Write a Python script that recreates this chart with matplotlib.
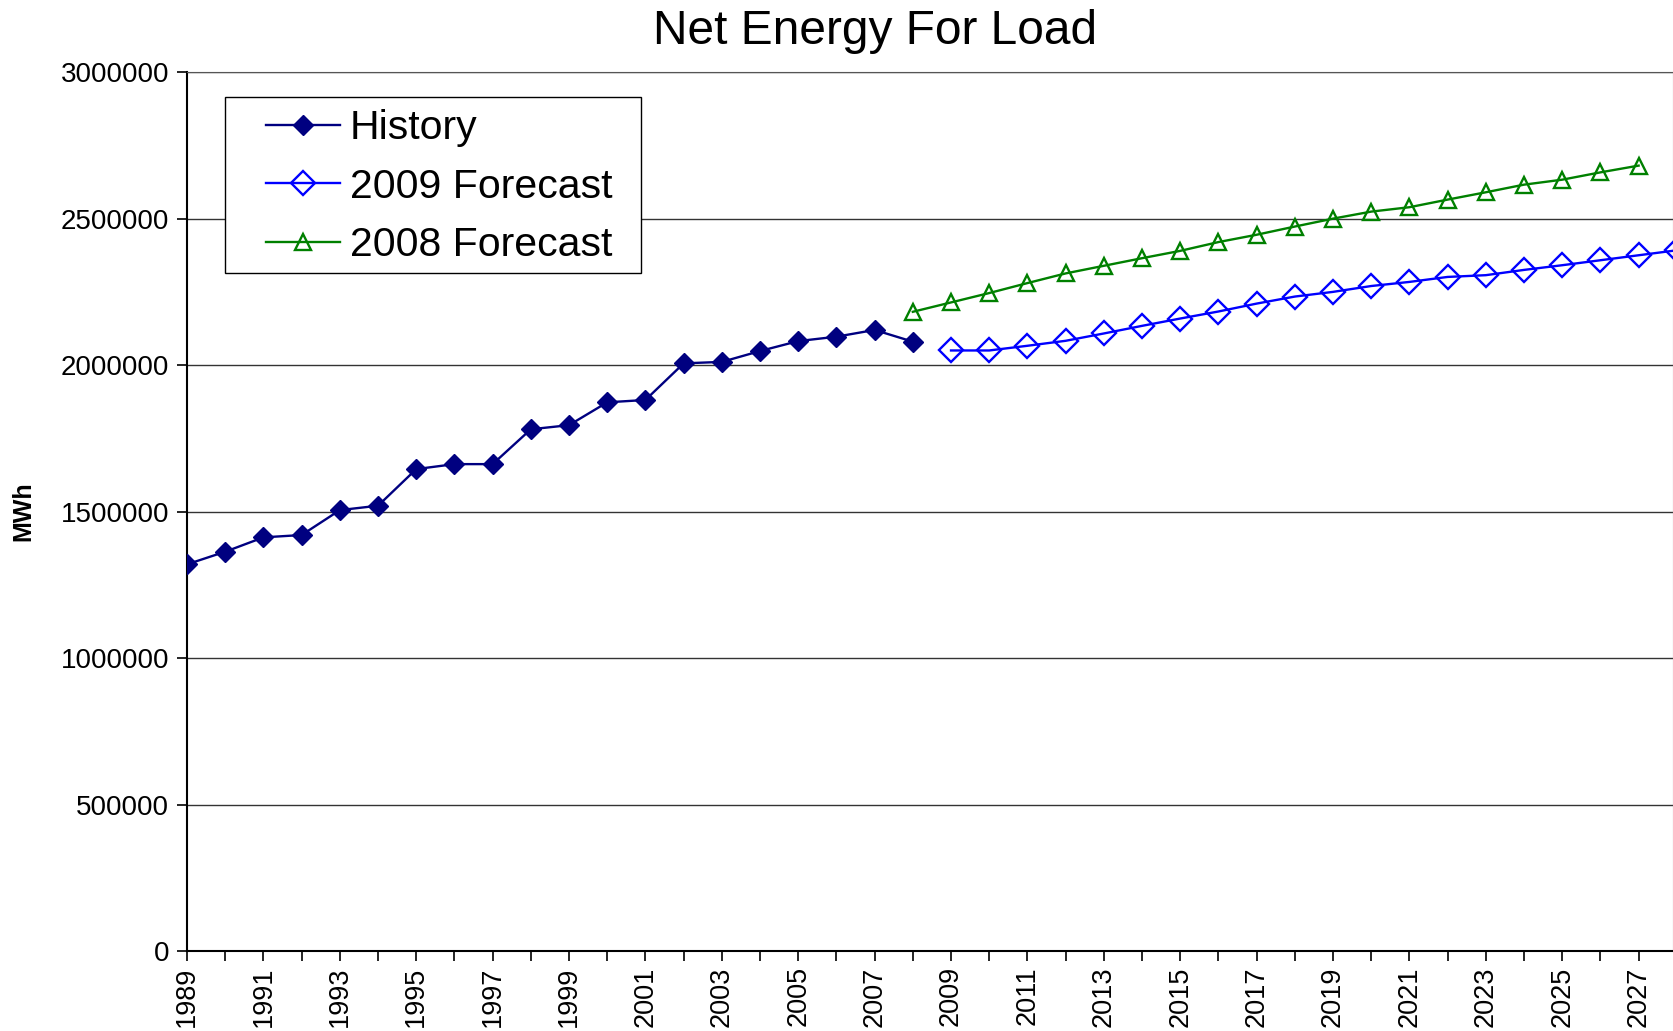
import matplotlib
matplotlib.use("Agg")
import matplotlib.pyplot as plt
from matplotlib.ticker import MultipleLocator, FixedLocator, FuncFormatter
from matplotlib.patches import Rectangle

plt.rcParams['font.family'] = ['Liberation Sans', 'DejaVu Sans']

# years on the category axis
history_years = list(range(1989, 2009))
forecast09_years = list(range(2009, 2029))
forecast08_years = list(range(2008, 2028))
label_years = list(range(1989, 2028, 2))

# MWh values
history = [1320000, 1363000, 1412000, 1420000, 1505000, 1520000, 1645000,
           1662000, 1662000, 1781000, 1795000, 1873000, 1881000, 2006000,
           2011000, 2048000, 2082000, 2097000, 2120000, 2080000]
forecast_2009 = [2050000, 2050000, 2066000, 2083000, 2108000, 2134000, 2159000,
                 2183000, 2210000, 2234000, 2250000, 2270000, 2284000, 2301000,
                 2307000, 2325000, 2341000, 2358000, 2375000, 2392000]
forecast_2008 = [2182000, 2214000, 2246000, 2280000, 2313000, 2339000, 2365000,
                 2390000, 2420000, 2445000, 2473000, 2500000, 2524000, 2539000,
                 2565000, 2590000, 2616000, 2633000, 2658000, 2681000]


fig = plt.figure(figsize=(16.73, 10.31), dpi=100)
ax = fig.add_axes([0.1118, 0.0776, 0.8882, 0.8524])

ax.plot(history_years, history, color='#000080', lw=1.7, marker='D',
        ms=10, mfc='#000080', mec='#000080', label='History', zorder=3)
ax.plot(forecast09_years, forecast_2009, color='#0000FF', lw=1.7, marker='D',
        ms=12.5, mfc='none', mec='#0000FF', mew=1.7, label='2009 Forecast', zorder=3)
ax.plot(forecast08_years, forecast_2008, color='#008000', lw=1.7, marker='^',
        ms=12, mfc='none', mec='#008000', mew=1.7, label='2008 Forecast', zorder=3)

# axes limits and ticks
ax.set_xlim(1989, 2027.9)
ax.set_ylim(0, 3000000)
ax.xaxis.set_major_locator(FixedLocator(label_years))
ax.xaxis.set_minor_locator(MultipleLocator(1))
ax.yaxis.set_major_locator(MultipleLocator(500000))
ax.yaxis.set_major_formatter(FuncFormatter(lambda v, p: '%d' % v))
ax.tick_params(axis='x', which='both', direction='out', length=7, width=1.2)
ax.tick_params(axis='x', which='major', labelsize=19.5, labelrotation=90, pad=4)
ax.tick_params(axis='y', direction='out', length=7, width=1.2, labelsize=20, pad=6)

ax.grid(axis='y', color='#333333', lw=1.0)
ax.set_axisbelow(True)
for side in ['left', 'bottom']:
    ax.spines[side].set_linewidth(1.5)
    ax.spines[side].set_color('black')
ax.spines['top'].set_color('#555555')
ax.spines['right'].set_color('#999999')

ax.set_ylabel('MWh', fontsize=18, fontweight='bold')
ax.yaxis.set_label_coords(-0.102, 0.5)

fig.text(0.523, 0.969, 'Net Energy For Load', fontsize=34.5, ha='center', va='center')

# legend box drawn separately so the padding matches
box = Rectangle((0.0256, 0.7713), 0.2799, 0.2003, transform=ax.transAxes,
                facecolor='white', edgecolor='black', lw=1.0, zorder=5)
ax.add_patch(box)
leg = ax.legend(loc='upper left', bbox_to_anchor=(0.0532, 0.958), borderaxespad=0,
                borderpad=0, fontsize=29.5, frameon=False, handlelength=1.8,
                handletextpad=0.25, labelspacing=0.5)
leg.set_zorder(6)

fig.savefig('out.png', dpi=100)
